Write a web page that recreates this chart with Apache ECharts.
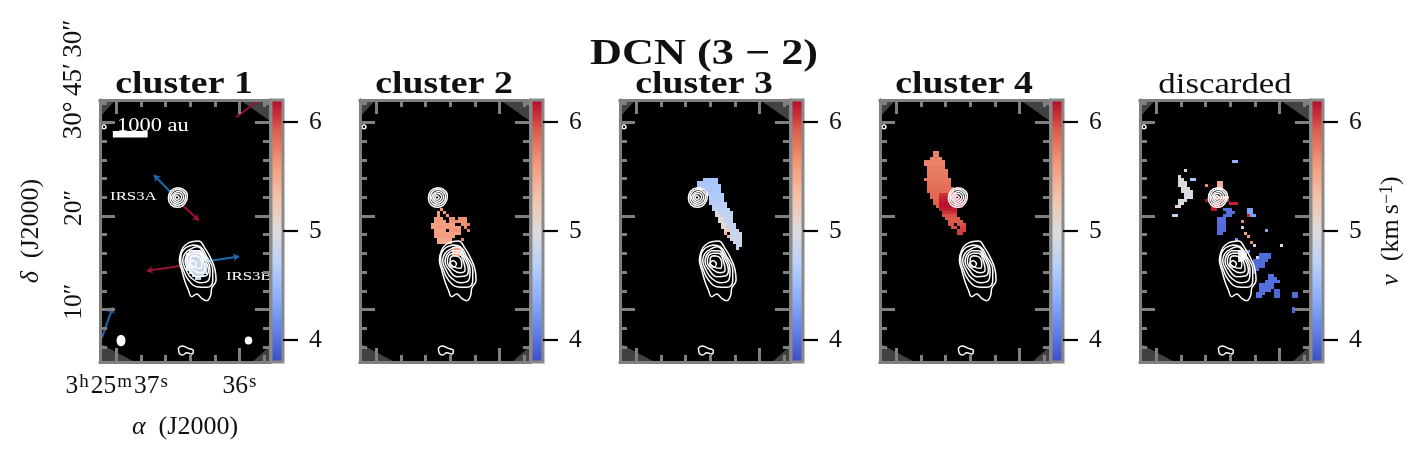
<!DOCTYPE html>
<html>
<head>
<meta charset="utf-8">
<style>
html,body{margin:0;padding:0;background:#fff;}
#chart{width:1424px;height:461px;}
</style>
<script src="https://cdn.jsdelivr.net/npm/echarts@6/dist/echarts.min.js"></script>
</head>
<body>
<div id="chart"></div>
<script>
// titles
const panelTitles = ['cluster 1', 'cluster 2', 'cluster 3', 'cluster 4', 'discarded'];

// axis ticks: RA seconds (after 3h25m), Dec arcsec (after 30d45')
const raMajor = [37, 36];
const raMinor = [36.8, 36.6, 36.4, 36.2, 35.8];
const decMajor = [10, 20, 30];
const decMinor = [6, 8, 12, 14, 16, 18, 22, 24, 26, 28, 32];
const velTicks = [4, 5, 6];
const velMin = 3.8, velMax = 6.2;

// matplotlib coolwarm
const coolwarm = ['#3b4cc0', '#6282ea', '#8db0fe', '#b8d0f9', '#dddcdc', '#f4c3ab', '#f49a7b', '#de604d', '#b40426'];

// velocity cells: [row, firstCol, lastCol, v] on the map pixel grid
const cluster1 = [[50,30,33,4.82],[51,29,34,4.84],[52,29,35,4.85],[53,29,35,4.87],[54,29,35,4.87],[55,29,35,4.86],[56,29,35,4.85],[57,30,35,4.84],[58,31,34,4.82],[59,32,33,4.8]];
const cluster2 = [[36,27,27,5.6],[37,26,26,5.55],[37,28,28,5.6],[38,26,26,5.6],[38,29,29,5.6],[39,25,27,5.6],[39,30,31,5.65],[39,33,35,5.65],
  [40,25,28,5.58],[40,30,35,5.65],[41,24,31,5.55],[41,34,35,5.65],[41,36,36,5.7],[42,24,33,5.58],[42,35,35,5.7],[43,25,28,5.55],[43,30,33,5.62],[43,36,36,5.7],
  [44,25,33,5.55],[45,25,31,5.55],[46,26,30,5.5],[46,34,34,5.7],[47,26,30,5.5],[49,31,33,5.6],[50,31,33,5.55],[51,31,33,5.6]];
const cluster3 = [[26,28,32,4.6],[27,26,32,4.6],[28,26,33,4.62],[29,26,33,4.62],[30,29,33,4.62],[31,29,34,4.65],[32,30,34,4.65],[33,30,34,4.68],[34,30,35,4.7],
  [35,31,35,4.72],[36,31,36,4.75],[37,32,32,4.95],[37,33,37,4.75],[38,32,33,4.95],[38,34,37,4.78],[39,33,34,5],[39,35,37,4.78],[40,33,34,5.05],[40,35,37,4.78],
  [41,34,35,5.05],[41,36,38,4.8],[42,34,35,5.1],[42,36,38,4.8],[43,35,36,5.2],[43,37,39,4.82],[44,35,35,5.4],[44,37,40,4.82],[45,36,36,5.4],[45,37,40,4.84],
  [46,37,40,4.85],[47,38,40,4.85],[48,39,40,4.85],[49,39,39,4.85]];
const cluster4 = [[17,18,19,5.72],[18,18,19,5.72],[19,17,20,5.72],[20,15,21,5.72],[21,15,21,5.72],[22,16,21,5.75],[23,16,22,5.75],[24,16,22,5.75],[25,16,22,5.78],
  [26,15,23,5.78],[27,16,23,5.8],[28,16,23,5.82],[29,16,24,5.82],[30,16,24,5.85],[31,17,19,5.85],[31,20,25,6.05],[32,17,19,5.85],[32,20,26,6.1],[33,18,19,5.88],[33,20,27,6.12],
  [34,18,19,5.9],[34,20,27,6.15],[35,19,19,5.9],[35,20,27,6.15],[36,20,25,6.12],[37,21,25,6.05],[38,21,25,5.95],[39,22,26,5.92],[40,23,27,5.92],[41,23,24,5.95],[41,26,28,5.95],
  [42,24,25,5.95],[42,27,28,6],[43,26,28,6],[44,26,27,6.02]];
const discarded = [[20,31,32,4.45],[23,15,15,4.9],[25,13,13,4.95],[26,13,14,4.95],[26,17,18,4.6],[27,13,15,4.95],[28,13,15,4.95],[29,14,16,4.95],[30,14,17,4.95],[31,15,17,4.95],[32,15,17,4.95],
  [33,13,15,4.97],[34,13,14,5],[35,12,13,5.1],[38,11,12,4.75],
  [27,26,27,5.5],[28,26,27,5.45],[29,26,27,5.5],[28,22,22,5.7],[32,25,29,5.5],[33,22,22,6.15],[33,27,29,6.1],[34,24,26,6.1],[34,30,32,6.1],[35,24,26,6.1],[36,24,25,6.15],
  [36,28,30,4],[37,29,31,4],[38,28,30,4],[39,26,28,4],[40,26,28,4],[41,26,28,4],[42,26,28,3.98],[43,26,28,3.98],[44,26,27,3.98],
  [36,36,37,4.3],[37,36,37,4.3],[38,37,38,4.3],[38,36,36,6.1],[40,34,34,5.7],[42,34,34,4.8],[43,42,42,4.3],[44,35,35,5.5],[45,36,36,5.6],[47,37,37,5.7],[48,47,47,5],[48,38,38,4.8],
  [46,32,32,4.2],[50,33,35,4.95],[50,35,36,4.2],[51,33,35,5.1],[52,33,35,4.95],[53,33,34,4.9],
  [51,40,43,3.97],[52,39,39,4.8],[52,40,43,3.97],[53,38,42,3.97],[54,38,41,3.97],[55,38,41,3.98],[56,38,39,3.98],[57,38,38,3.98],
  [58,43,44,4],[59,43,45,4],[60,42,46,4],[61,42,44,4],[62,42,44,4],[63,43,43,4],
  [61,40,41,4],[62,40,41,4],[63,40,42,4],[64,39,41,4],[65,39,40,4],
  [63,45,46,3.95],[64,45,46,3.95],[65,45,46,3.95],[64,51,52,3.97],[65,51,52,3.97],[69,51,51,3.97],[70,51,51,3.97]];
const panelCells = [cluster1, cluster2, cluster3, cluster4, discarded];

const contours = [
  [[305,455],[325,453],[345,475],[362,505],[375,540],[378,570],[365,595],[362,615],[350,632],[335,625],[320,612],[305,620],[295,600],[285,575],[275,540],[268,510],[275,480],[290,462],[305,455]],
  [[310,465],[330,470],[350,500],[368,540],[368,570],[350,592],[320,590],[295,570],[280,540],[272,510],[280,480],[310,465]],
  [[300,478],[320,470],[345,500],[360,540],[358,565],[335,578],[305,565],[288,540],[278,510],[285,490],[300,478]],
  [[305,482],[325,482],[345,510],[355,540],[345,558],[320,560],[298,540],[285,515],[290,495],[305,482]],
  [[308,490],[325,490],[342,520],[345,540],[330,548],[310,540],[292,515],[295,498],[308,490]],
  [[310,497],[325,500],[335,520],[332,535],[315,532],[300,515],[302,502],[310,497]],
  [[309,511],[319,521],[309,531],[299,521],[309,511]],
  [[262,293],[280,298],[292,318],[285,340],[262,352],[243,345],[235,325],[242,303],[262,293]],
  [[262,298],[277,303],[287,318],[281,337],[262,346],[247,340],[240,325],[246,307],[262,298]],
  [[262,304],[274,308],[281,320],[276,333],[262,340],[251,335],[245,324],[250,312],[262,304]],
  [[262,310],[270,313],[275,321],[271,329],[262,334],[254,330],[250,323],[254,315],[262,310]],
  [[261,316],[267,322],[261,328],[255,322],[261,316]],
  [[265,775],[275,768],[295,775],[310,782],[305,792],[290,788],[278,795],[268,790],[265,775]],
  [[42,104],[48,110],[42,116],[36,110],[42,104]]
];

// panel 1 overlays, in map pixels
const outflowsBlue = [[[23.7,30.6],[18.3,25]],[[34.8,53.9],[46.7,52.2]],[[0.9,79.4],[4.57,69.1]]];
const outflowsRed = [[[28.1,35.3],[33.3,40.2]],[[27.2,55.3],[15.9,56.9]],[[45.67,5.77],[54,-0.5]]];
const beams = [[7.33,80.2,9,11.5],[49.8,80.2,7.5,8]];
const scaleBar = [[4.6,11.4],[16.2,11.4]];
const notes = [['1000 au',6,8.7,19,1.18],['IRS3A',3.67,32.3,12,1.4],['IRS3B',42.3,59,12,1.4]];

// image corners outside the mosaic
const corners = [[[0,0],[5.5,0],[0,6]],[[47,0],[57,0],[57,7]],[[0,81],[12,87.4],[0,87.4]],[[51,87.4],[57,82],[57,87.4]]];

// pixel to sky
const RA_CELL = 3 / 122.6, DEC_CELL = 3 / 9.37;
const RA_ORIGIN = 37.144, DEC_ORIGIN = 32.38;
const raOf = c => RA_ORIGIN - c * RA_CELL;
const decOf = r => DEC_ORIGIN - r * DEC_CELL;
const traceRa = x => raOf((x - 27) / 9);
const traceDec = y => decOf((y - 30) / 9);
const sky = p => [raOf(p[0]), decOf(p[1])];

const SERIF = '"Liberation Serif", serif';
const GRAY = '#808080';

function cmap(v) {
  const t = Math.max(0, Math.min(1, (v - velMin) / (velMax - velMin))) * (coolwarm.length - 1);
  const i = Math.min(coolwarm.length - 2, Math.floor(t));
  const a = coolwarm[i], b = coolwarm[i + 1], f = t - i;
  const ch = (h, k) => parseInt(h.substr(1 + k * 2, 2), 16);
  const m = k => Math.round(ch(a, k) + (ch(b, k) - ch(a, k)) * f);
  return 'rgb(' + m(0) + ',' + m(1) + ',' + m(2) + ')';
}

const PANEL_LEFT = 100, PANEL_STEP = 260, PANEL_W = 170, PANEL_TOP = 100, PANEL_H = 262;
const grid = [], xAxis = [], yAxis = [], series = [];

function edgeAxis(gridIndex, position, ticks, length, extra) {
  return Object.assign({
    type: 'value', gridIndex, position, z: 6,
    axisLine: { show: true, onZero: false, lineStyle: { color: GRAY, width: 3 } },
    axisTick: { show: true, inside: true, length, customValues: ticks, lineStyle: { color: GRAY, width: 3 } },
    axisLabel: { show: false },
    splitLine: { show: false }
  }, extra);
}

const raRange = { inverse: true, min: 35.75, max: 37.136 };
const decRange = { min: decOf(87.333), max: DEC_ORIGIN };
const nameRich = { i: { fontFamily: SERIF, fontStyle: 'italic', fontSize: 26, color: '#111' }, s: { fontFamily: SERIF, fontSize: 18, color: '#111', verticalAlign: 'top' } };

panelTitles.forEach((title, k) => {
  const left = PANEL_LEFT + PANEL_STEP * k;
  const imgGrid = grid.length;
  grid.push({ left, top: PANEL_TOP, width: PANEL_W, height: PANEL_H, show: true, backgroundColor: '#000', borderWidth: 0 });
  const xi = xAxis.length, yi = yAxis.length;

  const bottomExtra = Object.assign({}, raRange);
  if (k === 0) {
    bottomExtra.axisLabel = {
      show: true, customValues: raMajor, margin: 11, color: '#000',
      formatter: v => v === 37 ? '{n|3}{s|h}{n|25}{s|m}{n|37}{s|s}' : '{n|36}{s|s}',
      rich: {
        n: { fontFamily: SERIF, fontSize: 25.5, color: '#111', padding: [0, 1, 0, 1] },
        s: { fontFamily: SERIF, fontSize: 19, color: '#111', verticalAlign: 'top', padding: [0, 1, 0, 0] }
      }
    };
    bottomExtra.name = '{i|α}\u2002(J2000)';
    bottomExtra.nameLocation = 'middle';
    bottomExtra.nameGap = 52;
    bottomExtra.nameTextStyle = { fontFamily: SERIF, fontSize: 26, color: '#111', rich: nameRich };
  }
  xAxis.push(edgeAxis(imgGrid, 'bottom', raMajor, 14, bottomExtra));
  xAxis.push(edgeAxis(imgGrid, 'bottom', raMinor, 7, raRange));
  xAxis.push(edgeAxis(imgGrid, 'top', raMajor, 14, raRange));
  xAxis.push(edgeAxis(imgGrid, 'top', raMinor, 7, raRange));

  const leftExtra = Object.assign({}, decRange);
  if (k === 0) {
    leftExtra.axisLabel = {
      show: true, customValues: decMajor, rotate: 90, margin: 13, align: 'center', color: '#111',
      formatter: v => v === 30 ? '{top|30°\u200945′\u200930″}' : '{low|' + v + '″}',
      rich: {
        top: { fontFamily: SERIF, fontSize: 27, color: '#111', padding: [0, 0, 0, 86] },
        low: { fontFamily: SERIF, fontSize: 25.5, color: '#111', padding: [0, 0, 0, 16] }
      }
    };
    leftExtra.name = '{i|δ}\u2002(J2000)';
    leftExtra.nameLocation = 'middle';
    leftExtra.nameRotate = 90;
    leftExtra.nameGap = 56;
    leftExtra.nameTextStyle = { fontFamily: SERIF, fontSize: 26, color: '#111', rich: nameRich };
  }
  yAxis.push(edgeAxis(imgGrid, 'left', decMajor, 15, leftExtra));
  yAxis.push(edgeAxis(imgGrid, 'left', decMinor, 7, decRange));
  yAxis.push(edgeAxis(imgGrid, 'right', decMajor, 15, decRange));
  yAxis.push(edgeAxis(imgGrid, 'right', decMinor, 7, decRange));

  // corners
  series.push({
    type: 'custom', coordinateSystem: 'cartesian2d', xAxisIndex: xi, yAxisIndex: yi, z: 1, silent: true, clip: true,
    data: corners.map((c, i) => [i]),
    renderItem: (params, api) => ({
      type: 'polygon',
      shape: { points: corners[api.value(0)].map(p => api.coord(sky(p))) },
      style: { fill: '#424242' }
    })
  });

  // velocity map
  const cells = [];
  panelCells[k].forEach(s => {
    for (let c = s[1]; c <= s[2]; c++) cells.push([raOf(c), decOf(s[0]), s[3]]);
  });
  series.push({
    type: 'custom', coordinateSystem: 'cartesian2d', xAxisIndex: xi, yAxisIndex: yi, z: 2, silent: true, clip: true,
    data: cells,
    renderItem: (params, api) => {
      const a = api.coord([api.value(0), api.value(1)]);
      const b = api.coord([api.value(0) - RA_CELL, api.value(1) - DEC_CELL]);
      const x0 = Math.round(a[0]), y0 = Math.round(a[1]);
      return {
        type: 'rect',
        shape: { x: x0, y: y0, width: Math.round(b[0]) - x0, height: Math.round(b[1]) - y0 },
        style: { fill: cmap(api.value(2)) }
      };
    }
  });

  if (k === 0) {
    [[outflowsBlue, '#1f69ad'], [outflowsRed, '#9a1036']].forEach(o => {
      series.push({
        type: 'lines', coordinateSystem: 'cartesian2d', xAxisIndex: xi, yAxisIndex: yi, z: 3, silent: true, clip: true,
        symbol: ['none', 'arrow'], symbolSize: 6,
        lineStyle: { color: o[1], width: 2, opacity: 1, curveness: 0 },
        data: o[0].map(a => ({ coords: a.map(sky) }))
      });
    });
    series.push({
      type: 'scatter', xAxisIndex: xi, yAxisIndex: yi, z: 4, silent: true,
      data: beams.map(b => ({ value: sky(b), symbolSize: [b[2], b[3]] })),
      itemStyle: { color: '#fff', opacity: 1 }
    });
    series.push({
      type: 'line', xAxisIndex: xi, yAxisIndex: yi, z: 4, silent: true, showSymbol: false,
      lineStyle: { color: '#fff', width: 6.6, cap: 'butt' },
      data: scaleBar.map(sky)
    });
    series.push({
      type: 'custom', coordinateSystem: 'cartesian2d', xAxisIndex: xi, yAxisIndex: yi, z: 4, silent: true, clip: true,
      data: notes.map((n, i) => [i]),
      renderItem: (params, api) => {
        const n = notes[api.value(0)];
        const p = api.coord(sky([n[1], n[2]]));
        return {
          type: 'text', x: p[0], y: p[1], scaleX: n[4],
          style: { text: n[0], font: n[3] + 'px ' + SERIF, fill: '#fff', textAlign: 'left', textVerticalAlign: 'middle' }
        };
      }
    });
  }

  // contours
  contours.forEach(c => {
    series.push({
      type: 'line', xAxisIndex: xi, yAxisIndex: yi, z: 4, silent: true, showSymbol: false, smooth: 0.5,
      lineStyle: { color: '#fff', width: 1.5 },
      data: c.map(p => [traceRa(p[0]), traceDec(p[1])])
    });
  });

  // colorbar
  const cbGrid = grid.length;
  grid.push({ left: left + PANEL_W + 1, top: PANEL_TOP, width: 12, height: PANEL_H, show: false });
  const cbx = xAxis.length, cby = yAxis.length;
  xAxis.push({ type: 'value', gridIndex: cbGrid, min: 0, max: 1, show: false });
  const cbAxis = {
    type: 'value', gridIndex: cbGrid, position: 'right', min: velMin, max: velMax, z: 8,
    axisLine: { show: false, onZero: false },
    axisTick: { show: true, length: 15, customValues: velTicks, lineStyle: { color: '#000', width: 2.2 } },
    axisLabel: { show: true, customValues: velTicks, margin: 26, fontFamily: SERIF, fontSize: 25.5, color: '#111', formatter: v => String(v) },
    splitLine: { show: false }
  };
  if (k === 4) {
    cbAxis.name = '{i|v}\u2002(km\u2009s{s|−1})';
    cbAxis.nameLocation = 'middle';
    cbAxis.nameRotate = 90;
    cbAxis.nameGap = 55;
    cbAxis.nameTextStyle = { fontFamily: SERIF, fontSize: 26, color: '#111', rich: nameRich };
  }
  yAxis.push(cbAxis);
  series.push({
    type: 'custom', coordinateSystem: 'cartesian2d', xAxisIndex: cbx, yAxisIndex: cby, z: 7, silent: true, clip: false,
    data: [[0, velMin, 1, velMax]],
    renderItem: (params, api) => {
      const a = api.coord([api.value(0), api.value(3)]);
      const b = api.coord([api.value(2), api.value(1)]);
      return {
        type: 'rect',
        shape: { x: a[0], y: a[1], width: b[0] - a[0], height: b[1] - a[1] },
        style: {
          fill: new echarts.graphic.LinearGradient(0, 1, 0, 0, coolwarm.map((c, i) => ({ offset: i / (coolwarm.length - 1), color: c }))),
          stroke: '#8a8a8a', lineWidth: 3
        }
      };
    }
  });
});

// titles as text so they can be widened like the Computer Modern original
const headCenters = [184, 444, 704, 964, 1225];
const graphic = panelTitles.map((t, k) => ({
  type: 'text', x: headCenters[k], y: 85, scaleX: k === 4 ? 1.16 : 1.22, z: 10, silent: true,
  style: {
    text: t, fill: '#111', textAlign: 'center', textVerticalAlign: 'middle',
    font: (k === 4 ? 'normal ' : 'bold ') + (k === 4 ? 30 : 31) + 'px ' + SERIF
  }
}));
graphic.push({
  type: 'text', x: 704, y: 55, scaleX: 1.23, z: 10, silent: true,
  style: { text: 'DCN (3 − 2)', fill: '#111', textAlign: 'center', textVerticalAlign: 'middle', font: 'bold 36px ' + SERIF }
});

const chart = echarts.init(document.getElementById('chart'), null, { renderer: 'canvas' });
chart.setOption({
  animation: false,
  backgroundColor: '#fff',
  textStyle: { fontFamily: SERIF },
  tooltip: { show: false },
  grid, xAxis, yAxis, series, graphic
});
</script>
</body>
</html>
